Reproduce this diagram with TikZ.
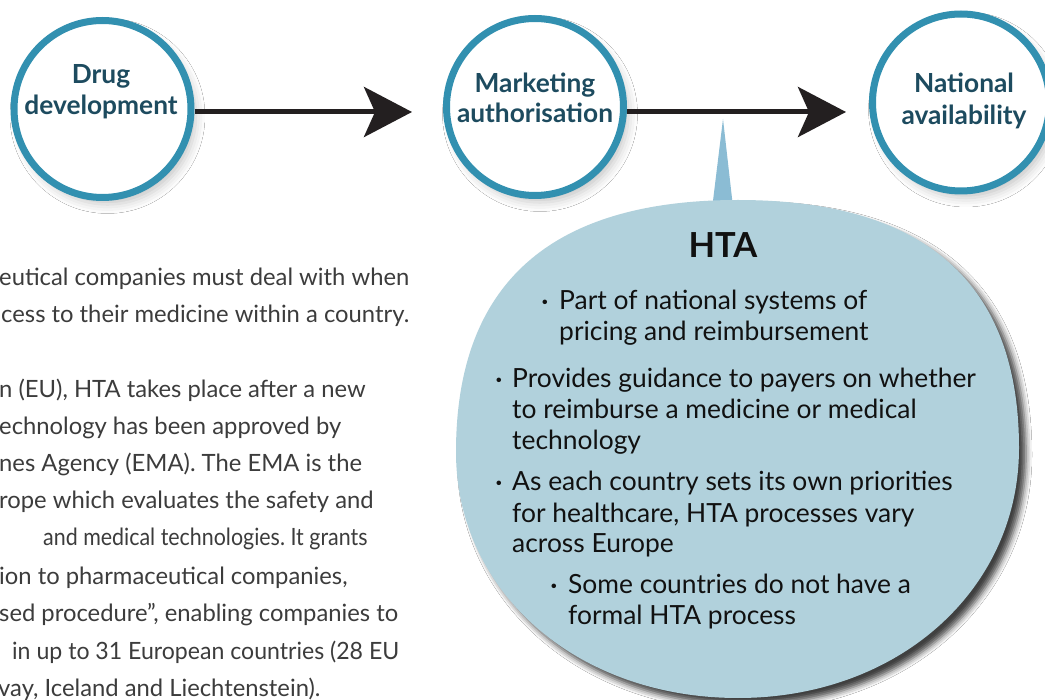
\documentclass[tikz,border=0pt]{standalone}
\usepackage{fontspec}
\setmainfont{Lato}
\frenchspacing
\usetikzlibrary{arrows.meta,shadows.blur}
\definecolor{ring}{HTML}{3290B0}
\definecolor{stagetext}{HTML}{1D4B5F}
\definecolor{arrowcol}{HTML}{231F20}
\definecolor{bubblefill}{HTML}{B1D1DC}
\definecolor{pointerfill}{HTML}{8BBCD4}
\definecolor{bodytext}{HTML}{3C3C3C}
\definecolor{htatext}{HTML}{111111}
\tikzset{
  stage/.style={circle, draw=ring, line width=7pt, fill=white, minimum size=177pt, inner sep=0pt,
    blur shadow={shadow xshift=5pt, shadow yshift=-7pt, shadow blur radius=9pt, shadow opacity=22}},
  stagelabel/.style={text=stagetext, font=\bfseries\fontsize{26.3}{31}\selectfont, inner sep=0pt, anchor=base},
  flow/.style={draw=arrowcol, line width=5pt, -{Stealth[length=48pt, width=50pt, inset=11pt]}},
  bubble/.style={fill=bubblefill,
    blur shadow={shadow xshift=7pt, shadow yshift=-7pt, shadow blur radius=6pt, shadow opacity=75}},
  htatitle/.style={text=htatext, font=\bfseries\fontsize{34.5}{40}\selectfont, inner sep=0pt, anchor=base},
  bline/.style={text=htatext, font=\fontsize{26.4}{31}\selectfont, inner sep=0pt, anchor=base west},
  bdot/.style={text=htatext, font=\bfseries\fontsize{24}{31}\selectfont, inner sep=0pt, anchor=base},
  pline/.style={text=bodytext, font=\fontsize{23.8}{37}\selectfont, inner sep=0pt, anchor=base west}
}
\begin{document}
\begin{tikzpicture}[x=1pt, y=-1pt]
\useasboundingbox (0,0) rectangle (1045,700);
\clip (0,0) rectangle (1045,700);
\fill[white] (0,0) rectangle (1045,700);

% stages
\node[stage] (c1) at (102.5,109) {};
\node[stage] (c2) at (535,107) {};
\node[stage] (c3) at (961,102.5) {};

\node[stagelabel] (c1a) at (101,84) {Drug};
\node[stagelabel] (c1b) at (101,115) {development};
\node[stagelabel] (c2a) at (535,93) {Marketing};
\node[stagelabel] (c2b) at (535,123) {authorisation};
\node[stagelabel] (c3a) at (964,93) {National};
\node[stagelabel] (c3b) at (964,125) {availability};

% arrows
\coordinate (a1e) at (412,112);
\coordinate (a2e) at (846,112);
\draw[flow] (c1.east |- a1e) -- (a1e);
\draw[flow] (c2.east |- a2e) -- (a2e);

% pointer and bubble
\fill[pointerfill] (723,119) -- (733,207) -- (712,209) -- cycle;
\path[bubble] (738,200) .. controls (925,200) and (1019,283) .. (1019,448)
  .. controls (1019,590) and (898,698) .. (738,698)
  .. controls (577,698) and (456,592) .. (456,452)
  .. controls (456,284) and (550,200) .. cycle;

\node[htatitle] (hta) at (723,258) {HTA};

\node[bdot] (d1) at (545,310) {·};
\node[bline] (b1a) at (559,310) {Part of national systems of};
\node[bline] (b1b) at (559,341) {pricing and reimbursement};
\node[bdot] (d2) at (499,388) {·};
\node[bline] (b2a) at (512,388) {Provides guidance to payers on whether};
\node[bline] (b2b) at (512,419) {to reimburse a medicine or medical};
\node[bline] (b2c) at (512,450) {technology};
\node[bdot] (d3) at (499,491) {·};
\node[bline] (b3a) at (512,491) {As each country sets its own priorities};
\node[bline] (b3b) at (512,522) {for healthcare, HTA processes vary};
\node[bline] (b3c) at (512,553) {across Europe};
\node[bdot] (d4) at (554,593) {·};
\node[bline] (b4a) at (568,593) {Some countries do not have a};
\node[bline] (b4b) at (568,624) {formal HTA process};

% paragraph fragments (cut by the left edge)
\node[pline] (p1) at (-1,286) {eutical companies must deal with when};
\node[pline] (p2) at (1,323) {cess to their medicine within a country.};
\node[pline] (p3) at (-1,398) {n (EU), HTA takes place after a new};
\node[pline] (p4) at (-1,435) {echnology has been approved by};
\node[pline] (p5) at (-1,472) {nes Agency (EMA). The EMA is the};
\node[pline] (p6) at (-1,509) {rope which evaluates the safety and};
\node[pline, xscale=0.9] (p7) at (43,546) {and medical technologies. It grants};
\node[pline] (p8) at (-1,584) {ion to pharmaceutical companies,};
\node[pline] (p9) at (-1,621) {sed procedure”, enabling companies to};
\node[pline, xscale=0.97] (p10) at (12,659) {in up to 31 European countries (28 EU};
\node[pline] (p11) at (-2,696) {vay, Iceland and Liechtenstein).};
\end{tikzpicture}
\end{document}
